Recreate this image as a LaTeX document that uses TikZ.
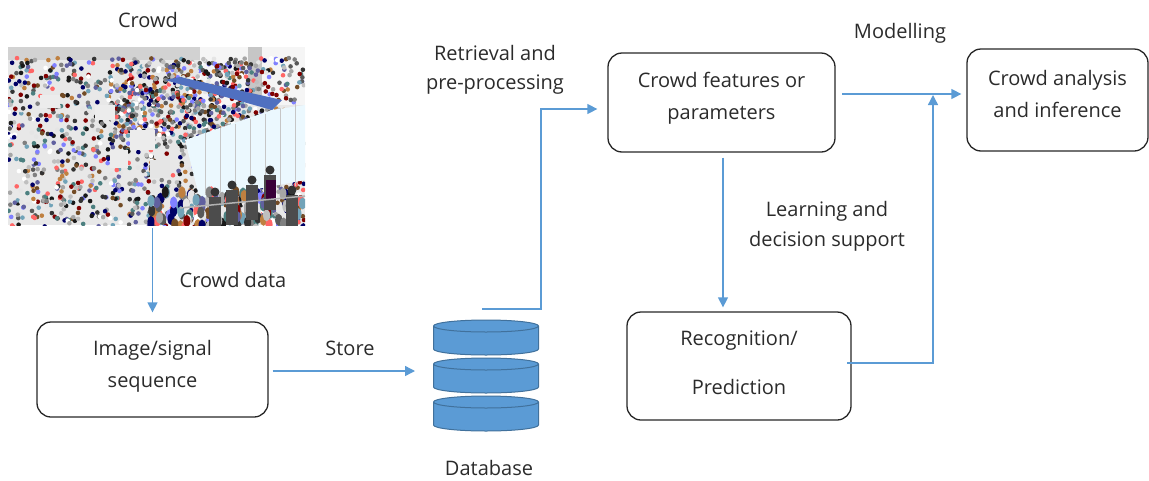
\documentclass[tikz,border=0pt]{standalone}
\usepackage{fontspec}
\setmainfont{Open Sans}
\usetikzlibrary{arrows.meta}
\definecolor{arrowblue}{HTML}{5B9BD5}
\definecolor{dbfill}{HTML}{5B9BD5}
\definecolor{dbdraw}{HTML}{41719C}
\definecolor{txt}{HTML}{2B2B2B}
\definecolor{canopy}{HTML}{5070C0}
\pgfmathdeclarerandomlist{crowdcols}{{black!80}{black!65}{gray!70}{blue!40!black}{red!50!black}{teal!40!gray}{brown!60!black}{white}{cyan!40!gray}{orange!50!gray}{gray!50}{black!90}{blue!25!gray}{white!80!gray}{black!50}{red!60}{blue!50}}
\begin{document}
\begin{tikzpicture}[x=1pt,y=-1pt,
 box/.style={draw=black!85, line width=1.3pt, rounded corners=14pt, inner sep=0pt},
 boxtext/.style={align=center, text=txt, inner sep=0pt, font=\fontsize{20}{32}\selectfont},
 conn/.style={draw=arrowblue, line width=1.4pt, -{Triangle[length=10pt,width=10pt]}},
 lbl/.style={text=txt, font=\fontsize{20}{24}\selectfont, inner sep=0pt},
 dbshape/.style={fill=dbfill, draw=dbdraw, line width=1pt},
]
\useasboundingbox (0,0) rectangle (1149,480);

% ---- photo (stylised crowd scene) ----
\node[inner sep=0pt, minimum width=297pt, minimum height=178pt] (photo) at (156.5,136) {};
\begin{scope}
\clip (8,47) rectangle (305,225);
\fill[gray!18] (8,47) rectangle (305,225);
\fill[gray!35] (8,47) rectangle (305,60);
\fill[white!92!gray] (200,47) rectangle (305,105);
\fill[gray!45] (248,47) rectangle (262,100);
\pgfmathsetseed{4}
\foreach \i in {1,...,1300}{
  \pgfmathsetmacro\px{8+rnd*297}
  \pgfmathsetmacro\py{58+rnd*170}
  \pgfmathrandomitem\cc{crowdcols}
  \fill[\cc] (\px,\py) circle[radius=2.3pt];
}
\pgfmathsetseed{7}
\foreach \i in {1,...,500}{
  \pgfmathsetmacro\px{110+rnd*140}
  \pgfmathsetmacro\py{62+rnd*80}
  \pgfmathrandomitem\cc{crowdcols}
  \fill[\cc] (\px,\py) circle[radius=2.3pt];
}
\fill[canopy] (165,80) -- (180,77) -- (282,100) -- (272,110) -- cycle;
\fill[white!92!cyan] (185,140) -- (272,110) -- (305,105) -- (305,180) -- (200,200) -- cycle;
\foreach \x in {205,220,235,250,265,280,295}{
  \draw[gray!45, line width=1pt] (\x,{140-(\x-185)*0.33}) -- (\x,{195-(\x-200)*0.1});
}
\fill[white!85!gray] (130,130) rectangle (155,150);
\fill[white!85!gray] (95,105) rectangle (115,120);
\fill[white!80!gray] (150,160) rectangle (170,178);
\fill[white!85!gray] (110,150) rectangle (128,168);
\fill[white!85!gray] (40,95) rectangle (60,108);
\pgfmathsetseed{11}
\foreach \i in {1,...,140}{
  \pgfmathsetmacro\px{150+rnd*155}
  \pgfmathsetmacro\py{192+rnd*40}
  \pgfmathrandomitem\cc{crowdcols}
  \fill[\cc] (\px,\py) ellipse[x radius=3.5pt, y radius=6pt];
}
\foreach \x/\y in {270/170, 252/180, 232/185, 292/190, 215/192}{
  \fill[black!80] (\x,\y) circle[radius=4.5pt];
  \fill[black!70] (\x-6,\y+5) rectangle (\x+6,\y+40);
}
\fill[violet!45!black] (266,180) rectangle (276,200);
\draw[gray!60, line width=1.5pt] (180,208) -- (305,196);
\end{scope}

% ---- boxes ----
\node[box, minimum width=231pt, minimum height=95pt] (img) at (152.5,369.5) {};
\node[box, minimum width=227pt, minimum height=99pt] (feat) at (721.5,102.5) {};
\node[box, minimum width=224pt, minimum height=108pt] (recog) at (739,366) {};
\node[box, minimum width=181pt, minimum height=102pt] (ana) at (1057.5,100) {};
\node[boxtext] (img-t) at (152.5,366) {Image/signal\\sequence};
\node[boxtext] (feat-t) at (721.5,98) {Crowd features or\\parameters};
\node[boxtext, font=\fontsize{20}{49}\selectfont] (recog-t) at (739,362.5) {Recognition/\\Prediction};
\node[boxtext] (ana-t) at (1057.5,94) {Crowd analysis\\and inference};

% ---- database ----
\node[inner sep=0pt, minimum width=105pt, minimum height=110pt] (db) at (486,375) {};
\foreach \yt in {326,364,402}{
  \draw[dbshape] (433.5,\yt) -- (433.5,\yt+23)
     arc[start angle=180, end angle=360, x radius=52.5pt, y radius=6pt]
     -- (538.5,\yt)
     arc[start angle=0, end angle=180, x radius=52.5pt, y radius=6pt] -- cycle;
  \draw[dbdraw, line width=1pt] (433.5,\yt) arc[start angle=180, end angle=360, x radius=52.5pt, y radius=6pt];
}

% ---- helper coordinates ----
\coordinate (dbout) at (482,309);
\coordinate (up1) at (541,109);
\coordinate (featout) at (842,94);
\coordinate (recout) at (847,363);
\coordinate (merge) at (933,94);

% ---- connectors ----
\draw[conn, shorten <=3pt, shorten >=9pt] (photo.south -| img.north) -- (img.north);
\draw[conn, shorten <=4pt] (img.east |- 0,371) -- (415,371) coordinate (dbin);
\draw[conn, shorten >=10pt] (dbout) -| (up1) -- (feat.west |- up1);
\draw[conn, shorten >=5pt] (featout) -- (ana.west |- featout);
\draw[conn, shorten <=5pt, shorten >=4pt] (feat.south -| 723,0) -- (recog.north -| 723,0);
\draw[conn, shorten >=1pt] (recout) -| (merge);

% ---- labels ----
\node[lbl] (lcrowd) at (148,20) {Crowd};
\node[lbl] (lcdata) at (233,280) {Crowd data};
\node[lbl] (lstore) at (350,348) {Store};
\node[lbl] (ldb) at (489,468) {Database};
\node[lbl] (lret1) at (495,53) {Retrieval and};
\node[lbl] (lret2) at (495,85) {pre-processing};
\node[lbl] (lmod) at (900,33) {Modelling};
\node[lbl] (llearn1) at (827,211) {Learning and};
\node[lbl] (llearn2) at (827,241) {decision support};
\end{tikzpicture}
\end{document}
